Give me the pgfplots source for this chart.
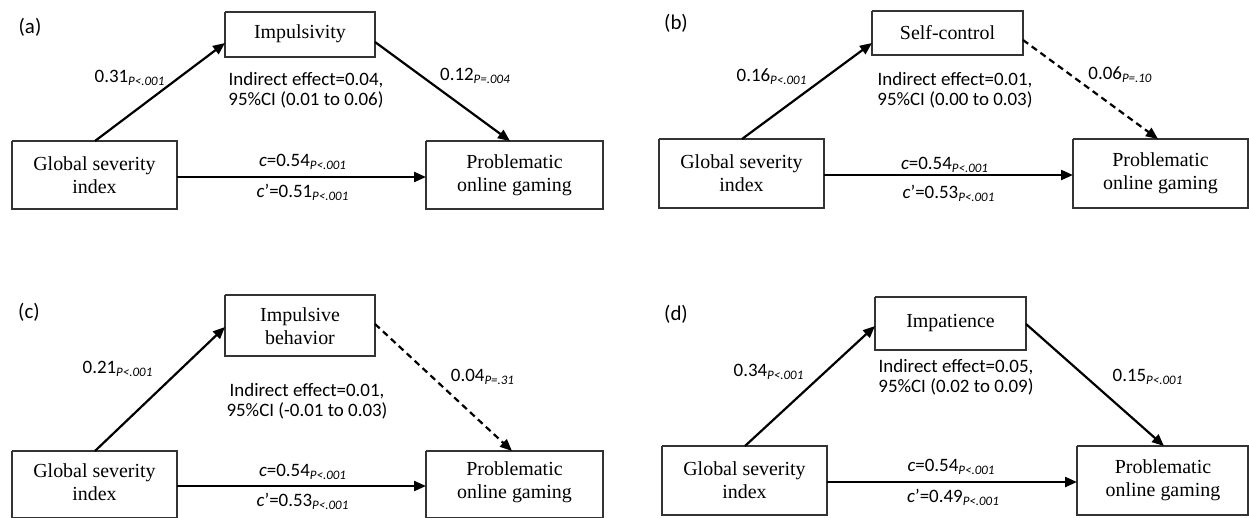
\documentclass[border=0pt]{standalone}
\usepackage{pgfplots}
\pgfplotsset{compat=1.18}
\usetikzlibrary{arrows.meta}
\usepackage{fontspec}
\setmainfont{Liberation Serif}
\newfontfamily\calfont{Carlito}
\newcommand{\sub}[1]{\raisebox{-0.35ex}{\fontsize{6.5}{7}\selectfont\itshape #1}}
\begin{document}
\begin{tikzpicture}[
  bx/.style={black!80, line width=0.7bp, mark=none},
  arr/.style={black, line width=1.1bp, mark=none, -{Triangle[length=6bp,width=5bp]}},
  dsh/.style={black, line width=1.1bp, mark=none, dash pattern=on 3.2bp off 2.2bp, -{Triangle[length=6bp,width=5bp]}},
  lab/.style={inner sep=0pt, font=\fontsize{9.5}{10}\selectfont\calfont, align=center},
  pan/.style={inner sep=0pt, font=\fontsize{10.5}{11}\selectfont\calfont},
  boxt/.style={inner sep=0pt, font=\fontsize{10}{11.5}\selectfont, align=center},
]
\begin{axis}[
  scale only axis, width=624.5bp, height=259bp,
  xmin=0, xmax=1249, ymin=0, ymax=518, y dir=reverse,
  axis lines=none, ticks=none, clip=false,
]
% ---------- panel (a)
\addplot[bx] coordinates {(225,12) (375,12) (375,57) (225,57) (225,12)};
\addplot[bx] coordinates {(12,141) (177,141) (177,209) (12,209) (12,141)};
\addplot[bx] coordinates {(426,141) (603,141) (603,209) (426,209) (426,141)};
\addplot[arr] coordinates {(95,141) (225,43)};
\addplot[arr] coordinates {(375,42) (510,141)};
\addplot[arr] coordinates {(177,177) (426,177)};
\node[pan] at (axis cs:30,27) {(a)};
\node[boxt] at (axis cs:300,34) {Impulsivity};
\node[boxt] at (axis cs:94.5,175) {Global severity\\index};
\node[boxt] at (axis cs:514.5,175) {Problematic\\online gaming};
\node[lab] at (axis cs:129.5,78) {0.31\sub{P<.001}};
\node[lab] at (axis cs:475,76) {0.12\sub{P=.004}};
\node[lab] at (axis cs:306,90) {Indirect effect=0.04,\\95\%CI (0.01 to 0.06)};
\node[lab] at (axis cs:302.5,162) {\textit{c}=0.54\sub{P<.001}};
\node[lab] at (axis cs:302.5,192) {\textit{c}’=0.51\sub{P<.001}};
% ---------- panel (b)
\addplot[bx] coordinates {(872,11) (1023,11) (1023,55) (872,55) (872,11)};
\addplot[bx] coordinates {(659,139) (824,139) (824,208) (659,208) (659,139)};
\addplot[bx] coordinates {(1073,139) (1248,139) (1248,208) (1073,208) (1073,139)};
\addplot[arr] coordinates {(742,139) (872,43)};
\addplot[dsh] coordinates {(1023,40) (1158,139)};
\addplot[arr] coordinates {(824,175) (1073,175)};
\node[pan] at (axis cs:676,23) {(b)};
\node[boxt] at (axis cs:947.5,33) {Self-control};
\node[boxt] at (axis cs:741.5,173.5) {Global severity\\index};
\node[boxt] at (axis cs:1160.5,173.5) {Problematic\\online gaming};
\node[lab] at (axis cs:771.5,77) {0.16\sub{P<.001}};
\node[lab] at (axis cs:1120,75) {0.06\sub{P=.10}};
\node[lab] at (axis cs:955,90) {Indirect effect=0.01,\\95\%CI (0.00 to 0.03)};
\node[lab] at (axis cs:944.5,165) {\textit{c}=0.54\sub{P<.001}};
\node[lab] at (axis cs:948.5,193) {\textit{c}’=0.53\sub{P<.001}};
% ---------- panel (c)
\addplot[bx] coordinates {(225,295) (375,295) (375,356) (225,356) (225,295)};
\addplot[bx] coordinates {(12,451) (177,451) (177,518) (12,518) (12,451)};
\addplot[bx] coordinates {(426,451) (603,451) (603,518) (426,518) (426,451)};
\addplot[arr] coordinates {(95,451) (225,327)};
\addplot[dsh] coordinates {(375,324) (512,451)};
\addplot[arr] coordinates {(177,486) (426,486)};
\node[pan] at (axis cs:29,312) {(c)};
\node[boxt] at (axis cs:300,326) {Impulsive\\behavior};
\node[boxt] at (axis cs:94.5,482.5) {Global severity\\index};
\node[boxt] at (axis cs:514.5,482.5) {Problematic\\online gaming};
\node[lab] at (axis cs:117.5,369) {0.21\sub{P<.001}};
\node[lab] at (axis cs:482.5,377) {0.04\sub{P=.31}};
\node[lab] at (axis cs:307,401) {Indirect effect=0.01,\\95\%CI (-0.01 to 0.03)};
\node[lab] at (axis cs:302.5,472) {\textit{c}=0.54\sub{P<.001}};
\node[lab] at (axis cs:302.5,501) {\textit{c}’=0.53\sub{P<.001}};
% ---------- panel (d)
\addplot[bx] coordinates {(875,297) (1026,297) (1026,350) (875,350) (875,297)};
\addplot[bx] coordinates {(662,446) (827,446) (827,515) (662,515) (662,446)};
\addplot[bx] coordinates {(1077,446) (1248,446) (1248,515) (1077,515) (1077,446)};
\addplot[arr] coordinates {(745,446) (875,326)};
\addplot[arr] coordinates {(1026,324) (1164,446)};
\addplot[arr] coordinates {(827,482) (1077,482)};
\node[pan] at (axis cs:676,314) {(d)};
\node[boxt] at (axis cs:950.5,323.5) {Impatience};
\node[boxt] at (axis cs:744.5,480.5) {Global severity\\index};
\node[boxt] at (axis cs:1163,480.5) {Problematic\\online gaming};
\node[lab] at (axis cs:768.5,372) {0.34\sub{P<.001}};
\node[lab] at (axis cs:1147.5,377) {0.15\sub{P<.001}};
\node[lab] at (axis cs:956,377) {Indirect effect=0.05,\\95\%CI (0.02 to 0.09)};
\node[lab] at (axis cs:951,467) {\textit{c}=0.54\sub{P<.001}};
\node[lab] at (axis cs:953,497) {\textit{c}’=0.49\sub{P<.001}};
\end{axis}
\pgfresetboundingbox
\path (current axis.south west) rectangle (current axis.north east);
\end{tikzpicture}
\end{document}
